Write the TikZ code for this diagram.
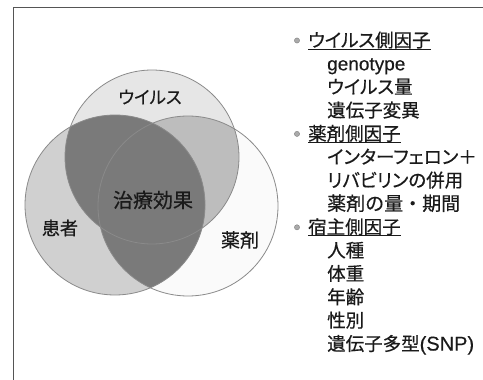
\documentclass[tikz,border=0pt]{standalone}
\usepackage{fontspec}
\setmainfont{Noto Sans CJK JP}[RawFeature=+palt, FakeBold=0.4]
\newfontfamily\lat{Liberation Sans}[FakeBold=0.3]
\newfontfamily\fullw{Noto Sans CJK JP}[FakeBold=0.4]
\definecolor{txt}{HTML}{1A1A1A}
\definecolor{framec}{HTML}{555555}
\definecolor{vcol}{HTML}{E6E6E6}
\definecolor{dcol}{HTML}{FAFAFA}
\definecolor{pcol}{HTML}{D0D0D0}
\definecolor{vdcol}{HTML}{BDBDBD}
\definecolor{effcol}{HTML}{7A7A7A}
\definecolor{outc}{HTML}{8A8A8A}
\definecolor{bulc}{HTML}{AAAAAA}
\begin{document}
\begin{tikzpicture}[x=1pt,y=-1pt,
  frame/.style={draw=framec, line width=1pt},
  outl/.style={draw=outc, line width=0.8pt},
  lab/.style={inner sep=0pt, text=txt},
  head/.style={lab, anchor=base west, font=\fontsize{18.5}{18.5}\selectfont},
  item/.style={lab, anchor=base west, font=\fontsize{18.5}{18.5}\selectfont},
  latitem/.style={lab, anchor=base west, font=\lat\fontsize{19}{19}\selectfont},
  uline/.style={draw=txt, line width=0.8pt},
  bul/.style={fill=bulc, draw=gray, line width=0.4pt}]
\useasboundingbox (0,0) rectangle (483,380);
\fill[white] (0,0) rectangle (483,380);
\draw[frame] (13,380) -- (13,7) -- (483,7);

% Venn circles: V virus, D drug, P patient
\def\Vc{(152,157) circle [radius=87pt]}
\def\Dc{(188,206) circle [radius=90pt]}
\def\Pc{(115,205) circle [radius=90pt]}
\fill[vcol] \Vc;
\fill[dcol] \Dc;
\fill[pcol] \Pc;
\begin{scope}
  \clip \Vc;
  \fill[vdcol] \Dc;
\end{scope}
\begin{scope}
  \clip \Pc;
  \fill[effcol] \Vc;
  \fill[effcol] \Dc;
\end{scope}
\draw[outl] \Vc;
\draw[outl] \Dc;
\draw[outl] \Pc;

\node[lab, font=\fontsize{17.5}{17.5}\selectfont] (virus) at (150,97) {ウイルス};
\node[lab, font=\fontsize{20}{20}\selectfont] (effect) at (153,200) {治療効果};
\node[lab, font=\fontsize{18}{18}\selectfont] (patient) at (60,228) {患者};
\node[lab, font=\fontsize{19}{19}\selectfont] (drug) at (240,240) {薬剤};

% list
\node[head] (h1) at (308,47) {ウイルス側因子};
\node[latitem] (i1) at (327,70.35) {genotype};
\node[item] (i2) at (327,93.7) {ウイルス量};
\node[item] (i3) at (327,117.05) {遺伝子変異};
\node[head] (h2) at (308,140.4) {薬剤側因子};
\node[item] (i5) at (327,163.75) {インターフェロン＋};
\node[item] (i6) at (327,187.1) {リバビリンの併用};
\node[item, font=\fullw\fontsize{19}{19}\selectfont] (i7) at (327,210.45) {薬剤の量・期間};
\node[head] (h3) at (308,233.8) {宿主側因子};
\node[item] (i9) at (327,257.15) {人種};
\node[item] (i10) at (327,280.5) {体重};
\node[item] (i11) at (327,303.85) {年齢};
\node[item] (i12) at (327,327.2) {性別};
\node[item] (i13) at (327,350.55) {遺伝子多型{\lat\fontsize{20}{20}\selectfont(SNP)}};

\foreach \h in {h1,h2,h3} {
  \draw[uline] ([yshift=-2pt]\h.base west) -- ([yshift=-2pt]\h.base east);
  \fill[bul] ([xshift=-11pt, yshift=6.5pt]\h.base west) circle [radius=2.6pt];
}
\end{tikzpicture}
\end{document}
